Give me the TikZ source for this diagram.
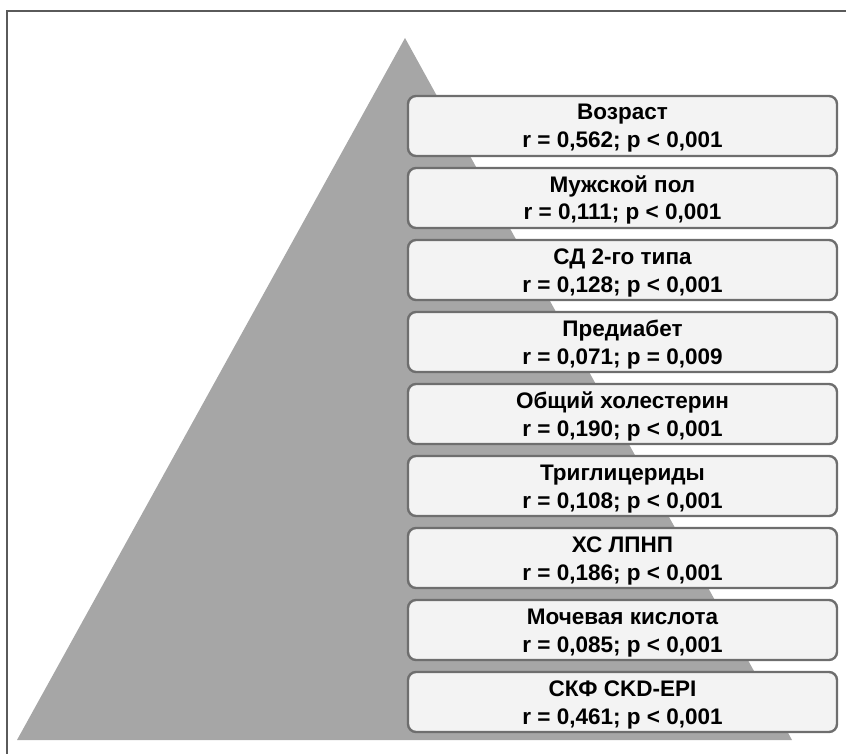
\documentclass[tikz,border=0pt]{standalone}
\usepackage{fontspec}
\setmainfont{Liberation Sans}
\usepackage{tikz}
\definecolor{pyramidgray}{HTML}{A6A6A6}
\definecolor{boxedge}{HTML}{6E6E6E}
\definecolor{boxfill}{HTML}{F3F3F3}
\definecolor{framegray}{HTML}{5A5A5A}

\begin{document}
\begin{tikzpicture}[x=1pt, y=-1pt,
  factor/.style={draw=boxedge, line width=2.4pt, fill=boxfill,
    rounded corners=8pt, minimum width=429pt, minimum height=60pt,
    inner sep=0pt, align=center, text height=44pt, text depth=-4pt,
    font=\fontsize{22.5}{28}\selectfont\bfseries}]

 \useasboundingbox (0,0) rectangle (846,754);

 % frame
 \draw [framegray, line width=1.6pt] (7,754) -- (7,11) -- (846,11);

 % pyramid
 \coordinate (apex) at (405,38);
 \coordinate (base_left) at (17,740);
 \coordinate (base_right) at (792,740);
 \fill [pyramidgray] (apex) -- (base_left) -- (base_right) -- cycle;


 \node [factor] (factor_1) at (622.5,126)
     {Возраст\\r = 0,562; p < 0,001};

 \node [factor] (factor_2) at (622.5,198)
     {Мужской пол\\r = 0,111; p < 0,001};

 \node [factor] (factor_3) at (622.5,270)
     {СД 2-го типа\\r = 0,128; p < 0,001};

 \node [factor] (factor_4) at (622.5,342)
     {Предиабет\\r = 0,071; p = 0,009};

 \node [factor] (factor_5) at (622.5,414)
     {Общий холестерин\\r = 0,190; p < 0,001};

 \node [factor] (factor_6) at (622.5,486)
     {Триглицериды\\r = 0,108; p < 0,001};

 \node [factor] (factor_7) at (622.5,558)
     {ХС ЛПНП\\r = 0,186; p < 0,001};

 \node [factor] (factor_8) at (622.5,630)
     {Мочевая кислота\\r = 0,085; p < 0,001};

 \node [factor] (factor_9) at (622.5,702)
     {СКФ CKD-EPI\\r = 0,461; p < 0,001};


\end{tikzpicture}
\end{document}
